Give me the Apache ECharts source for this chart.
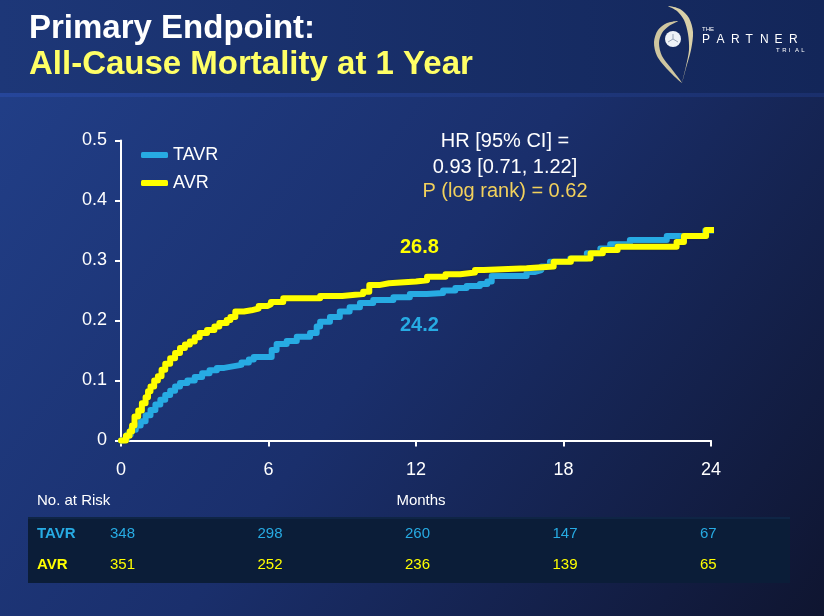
<!DOCTYPE html>
<html>
<head>
<meta charset="utf-8">
<script src="https://cdn.jsdelivr.net/npm/echarts@6/dist/echarts.min.js"></script>
<style>
html,body{margin:0;padding:0;background:#1a2f6a;}
#chart{width:824px;height:616px;}
</style>
</head>
<body>
<div id="chart"></div>
<script>
// ---- Data ----
const seriesNames = ['TAVR', 'AVR'];
const tavr = [
  [0,0],[0.1,0.003],[0.25,0.01],[0.4,0.018],[0.6,0.025],[0.8,0.032],[1.0,0.042],[1.2,0.051],
  [1.4,0.06],[1.6,0.068],[1.8,0.076],[2.0,0.083],[2.2,0.09],[2.4,0.096],[2.7,0.1],[3.0,0.106],
  [3.3,0.112],[3.6,0.117],[3.9,0.121],[4.2,0.124],[4.6,0.126],[4.9,0.13],[5.2,0.135],[5.4,0.139],
  [6.13,0.151],[6.33,0.161],[6.74,0.166],[7.15,0.173],[7.69,0.179],[7.96,0.19],[8.1,0.198],
  [8.5,0.206],[8.9,0.215],[9.3,0.222],[9.72,0.229],[10.26,0.234],[11.08,0.2387],[11.75,0.244],
  [12.44,0.246],[13.1,0.25],[13.6,0.254],[14.06,0.2575],[14.6,0.261],[14.9,0.265],[15.08,0.274],
  [16.5,0.281],[16.85,0.284],[17.1,0.29],[17.45,0.298],[18.27,0.3035],[18.95,0.312],[19.5,0.32],
  [19.9,0.327],[20.7,0.334],[22.2,0.341],[23.76,0.35],[24.9,0.35]
];
const avr = [
  [0,0],[0.2,0.008],[0.35,0.015],[0.45,0.025],[0.55,0.04],[0.7,0.05],[0.85,0.062],[1.0,0.072],
  [1.1,0.082],[1.2,0.09],[1.35,0.1],[1.5,0.107],[1.65,0.118],[1.8,0.128],[2.0,0.137],[2.2,0.146],
  [2.4,0.154],[2.6,0.16],[2.8,0.165],[3.0,0.172],[3.2,0.179],[3.5,0.184],[3.8,0.19],[4.0,0.196],
  [4.3,0.201],[4.45,0.206],[4.65,0.215],[5.0,0.217],[5.3,0.22],[5.6,0.224],[5.95,0.227],[6.1,0.231],
  [6.6,0.237],[8.1,0.241],[9.0,0.244],[9.85,0.248],[10.1,0.259],[10.5,0.262],[10.9,0.265],
  [12.0,0.267],[12.45,0.273],[13.2,0.277],[13.8,0.28],[14.4,0.284],[14.75,0.287],[16.5,0.29],
  [17.6,0.298],[18.3,0.3035],[19.1,0.312],[19.6,0.3175],[20.2,0.323],[22.6,0.331],[22.9,0.341],
  [23.8,0.351],[24.9,0.351]
];
const xTicks = [0, 6, 12, 18, 24];
const atRiskTAVR = [348, 298, 260, 147, 67];
const atRiskAVR = [351, 252, 236, 139, 65];
const estimateLabels = ['26.8', '24.2'];
const statsLines = ['HR [95% CI] =', '0.93 [0.71, 1.22]', 'P (log rank) = 0.62'];
const titleLines = ['Primary Endpoint:', 'All-Cause Mortality at 1 Year'];

// ---- Styles ----
const BLUE = '#27abe3';
const YELLOW = '#ffff00';
const FONT = 'Liberation Sans, Arial, sans-serif';

const chart = echarts.init(document.getElementById('chart'));

// y is the vertical middle of the text
function txt(x, y, text, size, color, opts) {
  opts = opts || {};
  return {
    type: 'text', x: x, y: y, silent: true,
    style: {text: text, fill: color, font: (opts.bold ? 'bold ' : '') + size + 'px ' + FONT,
      align: opts.align || 'left', verticalAlign: 'middle'}
  };
}

const partnerLetters = 'PARTNER'.split('');
const trialLetters = 'TRIAL'.split('');

const bgGraphics = [
  {type:'rect', z:-10, shape:{x:0,y:0,width:824,height:616}, silent:true,
    style:{fill:new echarts.graphic.LinearGradient(0,0,1,1,[
      {offset:0,color:'#22408a'},{offset:0.5,color:'#1a2f6c'},{offset:1,color:'#0f1530'}])}},
  {type:'rect', z:-9, shape:{x:0,y:0,width:824,height:93}, silent:true,
    style:{fill:new echarts.graphic.LinearGradient(0,0,1,0,[
      {offset:0,color:'#1d3778'},{offset:1,color:'#132659'}])}},
  {type:'rect', z:-9, shape:{x:0,y:93,width:824,height:4}, silent:true,
    style:{fill:new echarts.graphic.LinearGradient(0,0,1,0,[
      {offset:0,color:'#26469a'},{offset:1,color:'#1a2f6c'}])}}
];

const logo = [
  {type:'polygon', silent:true, shape:{smooth:0.3, points:[[668,6],[680,9],[689,18],[693,32],[691,50],[686,68],[682,83],[686,66],[689,50],[688,34],[684,20],[677,11]]},
    style:{fill:'#d9d0a8'}},
  {type:'polygon', silent:true, shape:{smooth:0.3, points:[[678,21],[667,23],[658,30],[654,42],[657,56],[668,70],[682,83],[671,68],[662,56],[659,43],[662,33],[669,26]]},
    style:{fill:'#cfc6a0'}},
  {type:'circle', silent:true, shape:{cx:673, cy:39, r:8}, style:{fill:'#eef2f7'}},
  {type:'line', silent:true, shape:{x1:673,y1:39,x2:673,y2:34}, style:{stroke:'#9aa6b8', lineWidth:1}},
  {type:'line', silent:true, shape:{x1:673,y1:39,x2:668,y2:42}, style:{stroke:'#9aa6b8', lineWidth:1}},
  {type:'line', silent:true, shape:{x1:673,y1:39,x2:678,y2:42}, style:{stroke:'#9aa6b8', lineWidth:1}},
  txt(702, 29, 'THE', 6, '#ffffff')
].concat(partnerLetters.map((c,i)=>txt(702 + i*14.5, 39.5, c, 12, '#ffffff')))
 .concat(trialLetters.map((c,i)=>txt(776 + i*6.3, 50, c, 6, '#ffffff')));

const baseGraphics = bgGraphics.concat(logo).concat([
  txt(29, 28.5, titleLines[0], 33, '#ffffff', {bold: true}),
  txt(29, 64.5, titleLines[1], 33, '#ffff66', {bold: true}),
  txt(505, 141, statsLines[0], 20, '#ffffff', {align: 'center'}),
  txt(505, 167, statsLines[1], 20, '#ffffff', {align: 'center'}),
  txt(505, 191, statsLines[2], 20, '#f2d15c', {align: 'center'}),
  txt(400, 247, estimateLabels[0], 20, YELLOW, {bold: true}),
  txt(400, 325, estimateLabels[1], 20, BLUE, {bold: true}),
  txt(37, 501, 'No. at Risk', 15, '#ffffff'),
  txt(421, 501, 'Months', 15, '#ffffff', {align: 'center'}),
  {type:'rect', silent:true, z:-5, shape:{x:28, y:517, width:762, height:66}, style:{fill:'#0b1d38'}},
  {type:'rect', silent:true, z:-4, shape:{x:28, y:517, width:762, height:2}, style:{fill:'#0f2545'}},
  txt(37, 534, 'TAVR', 15, BLUE, {bold: true}),
  txt(37, 565, 'AVR', 15, YELLOW, {bold: true})
]);

const option = {
  animation: false,
  backgroundColor: 'transparent',
  grid: {left: 121, right: 113, top: 140.5, bottom: 175.5, containLabel: false},
  legend: {
    data: seriesNames,
    orient: 'vertical',
    left: 141, top: 146, padding: 0,
    itemWidth: 27, itemHeight: 6, itemGap: 10,
    icon: 'roundRect',
    textStyle: {color: '#ffffff', fontSize: 18, fontFamily: FONT}
  },
  xAxis: {
    type: 'value', min: 0, max: 24, interval: 6,
    axisLine: {show: true, lineStyle: {color: '#ffffff', width: 2}},
    axisTick: {show: true, length: 6, lineStyle: {color: '#ffffff', width: 2}},
    axisLabel: {color: '#ffffff', fontSize: 18, fontFamily: FONT, margin: 21},
    splitLine: {show: false}
  },
  yAxis: {
    type: 'value', min: 0, max: 0.5, interval: 0.1,
    axisLine: {show: true, lineStyle: {color: '#ffffff', width: 2}},
    axisTick: {show: true, length: 6, lineStyle: {color: '#ffffff', width: 2}},
    axisLabel: {color: '#ffffff', fontSize: 18, fontFamily: FONT, margin: 14},
    splitLine: {show: false}
  },
  series: [
    {name: seriesNames[0], type: 'line', step: 'end', data: tavr, showSymbol: false, clip: false,
      color: BLUE, lineStyle: {width: 6, color: BLUE, cap: 'round', join: 'round'}, z: 2},
    {name: seriesNames[1], type: 'line', step: 'end', data: avr, showSymbol: false, clip: false,
      color: YELLOW, lineStyle: {width: 6, color: YELLOW, cap: 'round', join: 'round',
        shadowColor: 'rgba(40,40,0,0.6)', shadowBlur: 1.5}, z: 3}
  ],
  graphic: baseGraphics
};
chart.setOption(option);

// At-risk numbers positioned via the x-axis scale
const extra = [];
xTicks.forEach((m, i) => {
  const px = chart.convertToPixel({gridIndex: 0}, [m, 0])[0] - 11;
  extra.push(txt(px, 534, String(atRiskTAVR[i]), 15, BLUE));
  extra.push(txt(px, 565, String(atRiskAVR[i]), 15, YELLOW));
});
chart.setOption({graphic: baseGraphics.concat(extra)}, {replaceMerge: ['graphic']});
</script>
</body>
</html>
